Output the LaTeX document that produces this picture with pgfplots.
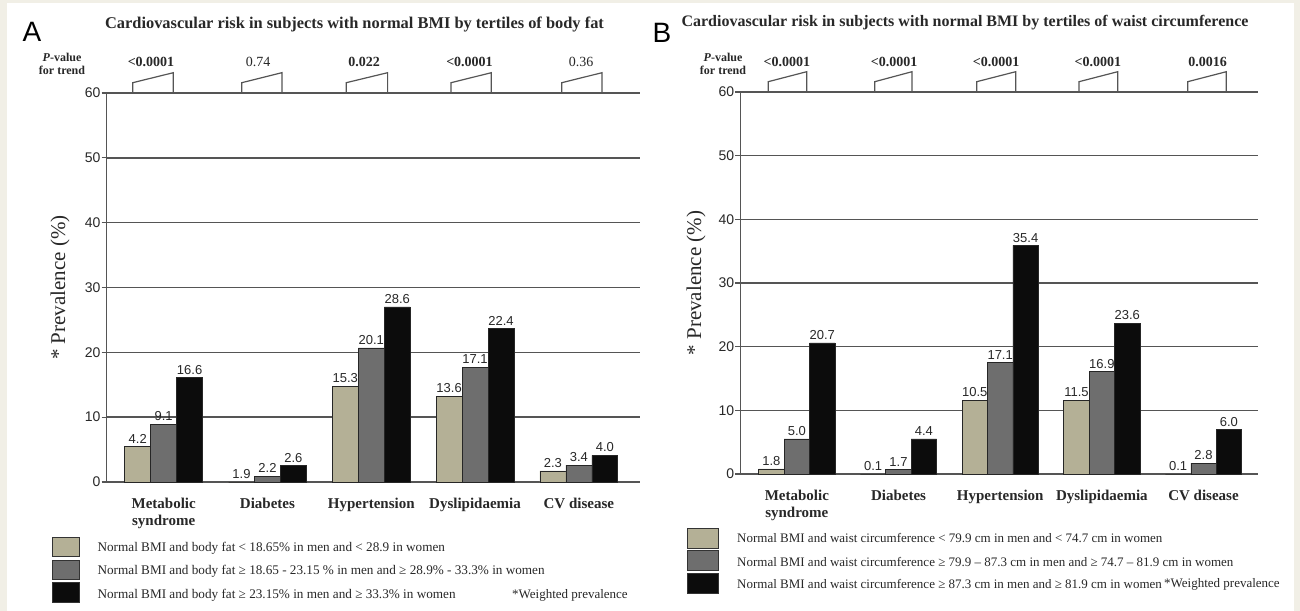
\documentclass[border=0pt]{standalone}
\usepackage{fontspec}
\setmainfont{Liberation Serif}
\newfontfamily\arial{Liberation Sans}
\usepackage{pgfplots}
\pgfplotsset{compat=1.18}
\usepackage{pgfplotstable}

\definecolor{tanc}{RGB}{180,176,150}
\definecolor{greyc}{RGB}{110,110,110}
\definecolor{blackc}{RGB}{12,12,12}
\definecolor{gridc}{RGB}{85,85,85}
\definecolor{bgc}{RGB}{241,239,230}
\definecolor{txtc}{RGB}{40,40,40}
\newcommand{\fs}[2]{\fontsize{#1bp}{#2bp}\selectfont}

% Panel A: bar heights as drawn (y) and printed labels (lab)
\pgfplotstableread{
x y lab
0 5.5 4.2
1 0.0 1.9
2 14.8 15.3
3 13.2 13.6
4 1.7 2.3
}\Atan
\pgfplotstableread{
x y lab
0 8.9 9.1
1 0.9 2.2
2 20.7 20.1
3 17.7 17.1
4 2.6 3.4
}\Agrey
\pgfplotstableread{
x y lab
0 16.1 16.6
1 2.5 2.6
2 27.0 28.6
3 23.7 22.4
4 4.1 4.0
}\Ablack
% Panel B
\pgfplotstableread{
x y lab
0 0.8 1.8
1 0.0 0.1
2 11.6 10.5
3 11.6 11.5
4 0.0 0.1
}\Btan
\pgfplotstableread{
x y lab
0 5.5 5.0
1 0.7 1.7
2 17.5 17.1
3 16.1 16.9
4 1.7 2.8
}\Bgrey
\pgfplotstableread{
x y lab
0 20.6 20.7
1 5.5 4.4
2 35.9 35.4
3 23.7 23.6
4 7.0 6.0
}\Bblack

\pgfplotsset{
 panel/.style={
  scale only axis, anchor=south west,
  ymin=0, ymax=60, ytick={0,10,...,60},
  ymajorgrids, grid style={gridc, line width=1.4bp},
  axis lines*=left, axis line style={gridc, line width=1.4bp, -},
  xtick={0,...,4}, xtick style={draw=none},
  ytick style={gridc, line width=1.1bp}, tick align=outside, major tick length=5bp,
  yticklabel style={font=\arial\fs{14}{16}, text=txtc, inner sep=1bp},
  /pgf/number format/assume math mode=true,
  xticklabels={{Metabolic\\syndrome},Diabetes,Hypertension,Dyslipidaemia,CV disease},
  xticklabel style={font=\bfseries\fs{15}{16.7}, text=txtc, align=center, anchor=north, inner sep=0pt, yshift=-11bp},
  ylabel={* Prevalence (\%)},
  ylabel style={font=\fs{21}{24}, text=txtc, anchor=center},
  clip=false,
  ybar=0pt, bar width=0.25,
  point meta=explicit symbolic,
  nodes near coords,
  nodes near coords style={font=\arial\fs{13}{15}, text=txtc, inner sep=1bp, anchor=south, yshift=2bp},
  every axis plot/.append style={draw=black!85, line width=0.6bp},
 }
}

\begin{document}
\begin{tikzpicture}
\fill[bgc] (0,0) rectangle (1300bp,-611bp);
\fill[white] (7bp,-3bp) rectangle (1294bp,-611bp);
\path[use as bounding box] (0,0) rectangle (1300bp,-611bp);

% ---------- Panel A ----------
\begin{axis}[panel, at={(106.7bp,-482bp)}, width=533.3bp, height=389bp,
  xmin=-0.549, xmax=4.589,
  ylabel style={at={(axis description cs:-0.0876,0.5)}}]
\addplot[fill=tanc, bar shift=-0.25] table[x=x,y=y,meta=lab]{\Atan};
\addplot[fill=greyc, bar shift=0] table[x=x,y=y,meta=lab]{\Agrey};
\addplot[fill=blackc, bar shift=0.25] table[x=x,y=y,meta=lab]{\Ablack};
\end{axis}

% ---------- Panel B ----------
\begin{axis}[panel, at={(740.4bp,-474bp)}, width=517.6bp, height=382bp,
  xmin=-0.555, xmax=4.536,
  ylabel style={at={(axis description cs:-0.0858,0.5)}}]
\addplot[fill=tanc, bar shift=-0.25] table[x=x,y=y,meta=lab]{\Btan};
\addplot[fill=greyc, bar shift=0] table[x=x,y=y,meta=lab]{\Bgrey};
\addplot[fill=blackc, bar shift=0.25] table[x=x,y=y,meta=lab]{\Bblack};
\end{axis}

% ---------- headings ----------
\node[font=\arial\fs{28}{30}, text=black, anchor=base west] at (19bp,-41bp) {A};
\node[font=\arial\fs{28}{30}, text=black, anchor=base west] at (649bp,-42bp) {B};
\node[font=\bfseries\fs{16.4}{18}, text=txtc] at (354.5bp,-24bp) {Cardiovascular risk in subjects with normal BMI by tertiles of body fat};
\node[font=\bfseries\fs{16}{18}, text=txtc] at (965bp,-23bp) {Cardiovascular risk in subjects with normal BMI by tertiles of waist circumference};

\node[font=\bfseries\fs{12}{13.5}, text=txtc, align=center] at (62bp,-64bp) {\textit{P}-value\\for trend};
\node[font=\bfseries\fs{12}{13.5}, text=txtc, align=center] at (723bp,-64bp) {\textit{P}-value\\for trend};

% P-values panel A
\node[font=\bfseries\fs{14}{15}, text=txtc] at (151bp,-62bp) {<0.0001};
\node[font=\fs{14}{15}, text=txtc] at (258bp,-62bp) {0.74};
\node[font=\bfseries\fs{14}{15}, text=txtc] at (364bp,-62bp) {0.022};
\node[font=\bfseries\fs{14}{15}, text=txtc] at (469.5bp,-62bp) {<0.0001};
\node[font=\fs{14}{15}, text=txtc] at (581bp,-62bp) {0.36};
% P-values panel B
\node[font=\bfseries\fs{14}{15}, text=txtc] at (786.8bp,-62bp) {<0.0001};
\node[font=\bfseries\fs{14}{15}, text=txtc] at (894bp,-62bp) {<0.0001};
\node[font=\bfseries\fs{14}{15}, text=txtc] at (996bp,-62bp) {<0.0001};
\node[font=\bfseries\fs{14}{15}, text=txtc] at (1097.8bp,-62bp) {<0.0001};
\node[font=\bfseries\fs{14}{15}, text=txtc] at (1207.6bp,-62bp) {0.0016};

% trend wedges
\foreach \a/\b in {132.7/173.3, 241.7/281.9, 346.2/387.6, 451/491.3, 561.8/602}{
  \draw[gridc, line width=1.2bp, line join=miter] (\a bp,-92.7bp) -- (\a bp,-82.7bp) -- (\b bp,-72.7bp) -- (\b bp,-92.7bp);
}
\foreach \a/\b in {768.2/806.7, 874.7/912, 976.7/1015.7, 1079/1117.7, 1187.7/1226.3}{
  \draw[gridc, line width=1.2bp, line join=miter] (\a bp,-91.7bp) -- (\a bp,-81.7bp) -- (\b bp,-71.7bp) -- (\b bp,-91.7bp);
}

% ---------- legends ----------
\begin{scope}[draw=black!80, line width=0.6bp]
\filldraw[fill=tanc]  (51.8bp,-537.3bp) rectangle (78.8bp,-556.7bp);
\filldraw[fill=greyc] (51.8bp,-559.8bp) rectangle (78.8bp,-579.3bp);
\filldraw[fill=blackc](51.8bp,-582.7bp) rectangle (78.8bp,-602.7bp);
\filldraw[fill=tanc]  (687.3bp,-528.3bp) rectangle (718.4bp,-548.3bp);
\filldraw[fill=greyc] (687.3bp,-550.7bp) rectangle (718.4bp,-570.7bp);
\filldraw[fill=blackc](687.3bp,-573.3bp) rectangle (718.4bp,-593.3bp);
\end{scope}
\begin{scope}[every node/.style={font=\fs{13}{15}, text=txtc, anchor=west, inner sep=0pt}]
\node[font=\fs{13.2}{15}] at (97.4bp,-548.3bp) {Normal BMI and body fat < 18.65\% in men and < 28.9 in women};
\node[font=\fs{13.2}{15}] at (97.4bp,-571.7bp) {Normal BMI and body fat ≥ 18.65 - 23.15 \% in men and ≥ 28.9\% - 33.3\% in women};
\node[font=\fs{13.2}{15}] at (97.4bp,-595bp) {Normal BMI and body fat ≥ 23.15\% in men and ≥ 33.3\% in women};
\node at (512bp,-595bp) {*Weighted prevalence};
\node at (737bp,-538.3bp) {Normal BMI and waist circumference < 79.9 cm in men and < 74.7 cm in women};
\node at (737bp,-561.7bp) {Normal BMI and waist circumference ≥ 79.9 – 87.3 cm in men and ≥ 74.7 – 81.9 cm in women};
\node at (737bp,-584bp) {Normal BMI and waist circumference ≥ 87.3 cm in men and ≥ 81.9 cm in women};
\node at (1164bp,-584bp) {*Weighted prevalence};
\end{scope}
\end{tikzpicture}
\end{document}
